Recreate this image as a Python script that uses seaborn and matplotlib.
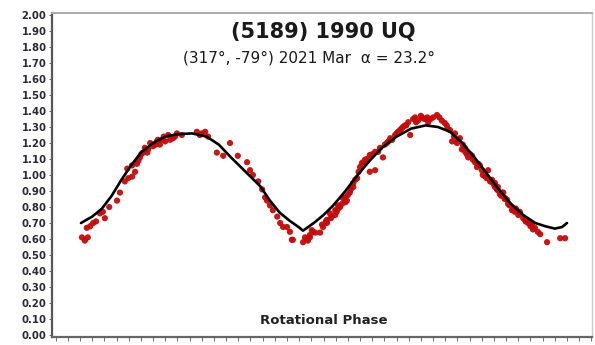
import matplotlib
matplotlib.use("Agg")
import matplotlib.pyplot as plt
import seaborn as sns
import numpy as np
import pandas as pd

# ---- data ----
title = "(5189) 1990 UQ"
subtitle = "(317°, -79°) 2021 Mar  α = 23.2°"
xlabel = "Rotational Phase"
ytick_values = [i / 10 for i in range(0, 21)]
ytick_labels = [f"{v:.2f}" for v in ytick_values]

fit_phase = [0.002, 0.025, 0.045, 0.065, 0.085, 0.105, 0.125, 0.150, 0.175,
             0.200, 0.230, 0.260, 0.285, 0.310, 0.340, 0.370, 0.390, 0.410,
             0.430, 0.450, 0.458, 0.480, 0.500, 0.520, 0.545, 0.570, 0.595,
             0.620, 0.650, 0.680, 0.710, 0.735, 0.760, 0.785, 0.810, 0.835,
             0.860, 0.885, 0.910, 0.935, 0.955, 0.975, 0.990, 1.000]
fit_value = [0.70, 0.74, 0.79, 0.87, 0.97, 1.06, 1.14, 1.20, 1.24,
             1.255, 1.26, 1.24, 1.19, 1.11, 1.02, 0.93, 0.84, 0.765,
             0.715, 0.672, 0.652, 0.70, 0.75, 0.81, 0.90, 1.00, 1.09,
             1.17, 1.24, 1.29, 1.31, 1.30, 1.27, 1.20, 1.11, 1.01,
             0.91, 0.82, 0.75, 0.70, 0.68, 0.665, 0.675, 0.70]

obs_phase = [0.004, 0.010, 0.016, 0.014, 0.021, 0.027, 0.033, 0.041, 0.047, 0.051,
             0.060, 0.076, 0.082, 0.092, 0.099, 0.107, 0.097, 0.107, 0.117, 0.123,
             0.129, 0.138, 0.144, 0.150, 0.158, 0.164, 0.175, 0.181, 0.191, 0.199,
             0.113, 0.133, 0.168, 0.185, 0.209, 0.246, 0.257, 0.263, 0.281, 0.294,
             0.308, 0.324, 0.343, 0.349, 0.355, 0.366, 0.374, 0.380, 0.384, 0.390,
             0.396, 0.405, 0.411, 0.417, 0.425, 0.431, 0.435, 0.437, 0.458, 0.462,
             0.466, 0.468, 0.472, 0.472, 0.476, 0.478, 0.483, 0.493, 0.497, 0.499,
             0.507, 0.507, 0.513, 0.517, 0.524, 0.524, 0.530, 0.530, 0.538, 0.540,
             0.548, 0.550, 0.554, 0.561, 0.561, 0.579, 0.585, 0.595, 0.606, 0.612,
             0.622, 0.595, 0.606, 0.630, 0.637, 0.647, 0.657, 0.663, 0.674, 0.678,
             0.688, 0.694, 0.704, 0.715, 0.725, 0.733, 0.743, 0.749, 0.760, 0.770,
             0.764, 0.774, 0.780, 0.784, 0.791, 0.797, 0.807, 0.815, 0.821, 0.827,
             0.832, 0.838, 0.846, 0.846, 0.852, 0.852, 0.858, 0.858, 0.867, 0.869,
             0.873, 0.877, 0.887, 0.889, 0.903, 0.903, 0.910, 0.914, 0.918, 0.920,
             0.924, 0.928, 0.934, 0.940, 0.959, 0.986, 0.996, 0.544, 0.569, 0.575,
             0.589, 0.616, 0.641, 0.653, 0.667, 0.684, 0.700, 0.713, 0.753, 0.786,
             0.801, 0.811, 0.862, 0.879, 0.895,
             0.120, 0.126, 0.140, 0.155, 0.160, 0.172, 0.195, 0.240, 0.250,
             0.505, 0.515, 0.527, 0.534, 0.545, 0.556, 0.565, 0.572, 0.582, 0.600,
             0.626, 0.633, 0.650, 0.660, 0.670, 0.690, 0.708, 0.720, 0.738,
             0.755, 0.768, 0.776, 0.790, 0.794, 0.805, 0.818, 0.825, 0.835, 0.842,
             0.850, 0.856, 0.865, 0.872, 0.882, 0.893, 0.900, 0.915, 0.925, 0.930,
             0.945]
obs_value = [0.61, 0.59, 0.61, 0.67, 0.68, 0.70, 0.71, 0.76, 0.77, 0.73,
             0.80, 0.84, 0.89, 0.96, 0.98, 0.99, 1.04, 1.06, 1.07, 1.11,
             1.14, 1.14, 1.20, 1.18, 1.21, 1.19, 1.21, 1.25, 1.23, 1.26,
             1.02, 1.17, 1.22, 1.22, 1.25, 1.25, 1.27, 1.24, 1.14, 1.12,
             1.20, 1.12, 1.08, 1.03, 1.00, 0.96, 0.91, 0.86, 0.84, 0.81,
             0.78, 0.74, 0.70, 0.675, 0.675, 0.645, 0.595, 0.595, 0.58, 0.61,
             0.595, 0.59, 0.61, 0.625, 0.655, 0.645, 0.64, 0.64, 0.69, 0.675,
             0.72, 0.70, 0.76, 0.74, 0.78, 0.75, 0.81, 0.79, 0.82, 0.855,
             0.84, 0.875, 0.89, 0.925, 0.95, 1.075, 1.095, 1.125, 1.145, 1.145,
             1.11, 1.02, 1.03, 1.20, 1.23, 1.25, 1.28, 1.30, 1.33, 1.25,
             1.36, 1.34, 1.355, 1.33, 1.36, 1.375, 1.34, 1.325, 1.28, 1.26,
             1.21, 1.20, 1.23, 1.16, 1.145, 1.11, 1.095, 1.05, 1.06, 1.00,
             0.99, 1.03, 0.97, 0.955, 0.95, 0.925, 0.925, 0.905, 0.89, 0.89,
             0.855, 0.845, 0.78, 0.78, 0.76, 0.77, 0.73, 0.72, 0.71, 0.70,
             0.70, 0.69, 0.67, 0.645, 0.58, 0.605, 0.605, 0.86, 0.98, 1.05,
             1.10, 1.17, 1.22, 1.27, 1.31, 1.35, 1.37, 1.36, 1.31, 1.19,
             1.13, 1.08, 0.88, 0.82, 0.79,
             1.09, 1.13, 1.16, 1.19, 1.22, 1.24, 1.24, 1.27, 1.26,
             0.71, 0.73, 0.77, 0.80, 0.83, 0.91, 0.97, 1.02, 1.08, 1.13,
             1.19, 1.21, 1.26, 1.29, 1.31, 1.33, 1.35, 1.35, 1.36,
             1.29, 1.24, 1.22, 1.17, 1.13, 1.12, 1.07, 1.03, 0.98, 0.96,
             0.94, 0.91, 0.87, 0.85, 0.81, 0.77, 0.75, 0.71, 0.68, 0.66,
             0.63]

obs = pd.DataFrame({"phase": obs_phase, "value": obs_value})
fit = pd.DataFrame({"phase": fit_phase, "value": fit_value})

# ---- figure ----
sns.set_theme(style="white")
plt.rcParams["font.family"] = ["DejaVu Sans"]

fig = plt.figure(figsize=(5.95, 3.45), dpi=100)
ax = fig.add_axes([52 / 595, 8 / 345, 540 / 595, 324 / 345])

sns.scatterplot(data=obs, x="phase", y="value", ax=ax, color="#c40a0a",
                s=20, edgecolor="none", linewidth=0, alpha=0.95, zorder=2)
sns.lineplot(data=fit, x="phase", y="value", ax=ax, sort=False,
             color="black", linewidth=1.9, zorder=3)

ax.set_xlim(-0.0575, 1.0513)
ax.set_ylim(-0.0125, 2.0125)
ax.set_yticks(ytick_values)
ax.set_yticklabels(ytick_labels, fontsize=7.3, fontweight="bold", color="#2a2a35")
ax.set_xticks(np.arange(-0.05, 1.051, 0.025))
ax.set_xticklabels([])
ax.tick_params(axis="x", bottom=True, length=3, width=0.8, color="#777777", pad=1)
ax.tick_params(axis="y", left=True, length=2, width=0.6, color="#555566", pad=2)
ax.set_xlabel("")
ax.set_ylabel("")

for side, col, lw in [("left", "#555566", 1.6), ("bottom", "#666666", 1.6),
                      ("top", "#aaaaaa", 1.4), ("right", "#cccccc", 1.0)]:
    ax.spines[side].set_visible(True)
    ax.spines[side].set_color(col)
    ax.spines[side].set_linewidth(lw)

fig.text(323 / 595, 1 - 32 / 345, title, ha="center", va="center",
         fontsize=15, fontweight="bold", color="#1a1a1a")
fig.text(309 / 595, 1 - 58 / 345, subtitle, ha="center", va="center",
         fontsize=11, color="#1a1a1a")
ax.text(324 / 595, 1 - 321 / 345, xlabel, transform=fig.transFigure,
        ha="center", va="center", fontsize=9.5, fontweight="bold", color="#222222")

fig.savefig("out.png", dpi=100)
